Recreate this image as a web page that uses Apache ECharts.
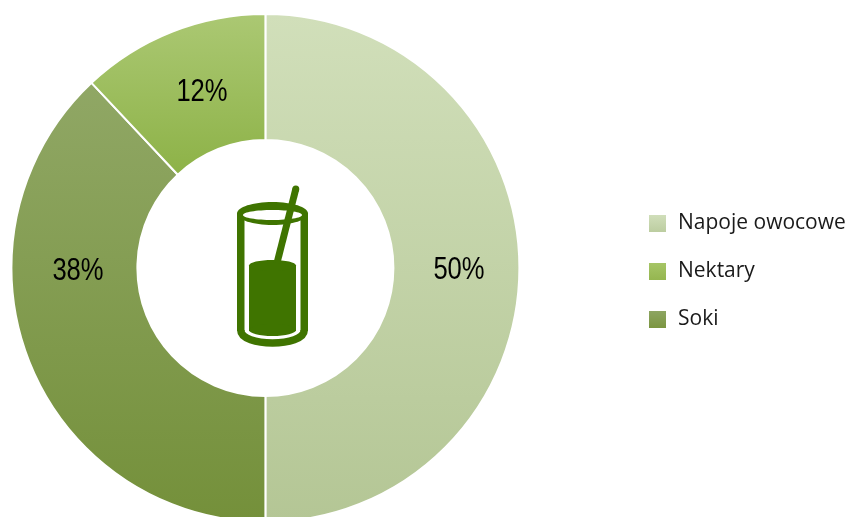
<!DOCTYPE html>
<html><head><meta charset="utf-8">
<style>html,body{margin:0;padding:0;background:#fff}#c{width:849px;height:517px}</style>
<script src="https://cdn.jsdelivr.net/npm/echarts@6/dist/echarts.min.js"></script>
</head><body><div id="c"></div>
<script>
const categories = ['Napoje owocowe', 'Nektary', 'Soki'];
const values = [50, 12, 38];
const pieOrder = [0, 2, 1];
const gradientTop = ['#d1dfba', '#abc873', '#90a765'];
const gradientBottom = ['#b4c695', '#8db247', '#74903a'];
const legendTop = ['#d0deba', '#a6c566', '#8da562'];
const legendBottom = ['#bccda0', '#95b650', '#7b9540'];
const iconColor = '#3f7400';
const labelCentres = [[459, 270], [202, 92.5], [78, 271]];

const cx = 265.4, cy = 268, outer = 254, inner = 128;
const gradientSpan = [[14, 522], [14, 175], [84, 522]];
const chart = echarts.init(document.getElementById('c'), null, {renderer: 'canvas'});
const grad = (i) => ({type: 'linear', x: 0, y: gradientSpan[i][0], x2: 0, y2: gradientSpan[i][1], global: true,
  colorStops: [{offset: 0, color: gradientTop[i]}, {offset: 1, color: gradientBottom[i]}]});
const legendGrad = (i) => ({type: 'linear', x: 0, y: 0, x2: 0, y2: 1,
  colorStops: [{offset: 0, color: legendTop[i]}, {offset: 1, color: legendBottom[i]}]});
const iconStroke = {fill: 'none', stroke: iconColor, lineWidth: 7.5};
const iconLine = {stroke: iconColor, lineWidth: 7, lineCap: 'butt'};

chart.setOption({
  animation: false,
  legend: {
    orient: 'vertical', left: 644, top: 206.5, itemWidth: 17, itemHeight: 17, itemGap: 24, icon: 'rect',
    selectedMode: false,
    textStyle: {fontFamily: 'Open Sans', fontSize: 21, color: '#1a1a1a', padding: [0, 0, 0, 7], height: 24, lineHeight: 24},
    data: categories.map((name, i) => ({name, itemStyle: {color: legendGrad(i), borderWidth: 0}}))
  },
  series: [{
    type: 'pie', center: [cx, cy], radius: [inner, outer], startAngle: 90, clockwise: true,
    avoidLabelOverlap: false, silent: true,
    itemStyle: {borderColor: '#fff', borderWidth: 2},
    label: {show: false},
    labelLine: {show: false},
    data: pieOrder.map((i) => ({name: categories[i], value: values[i], itemStyle: {color: grad(i)}}))
  }],
  graphic: [
    {type: 'line', silent: true, z: 10, shape: {x1: 240.75, y1: 213, x2: 240.75, y2: 331}, style: iconStroke},
    {type: 'line', silent: true, z: 10, shape: {x1: 304.25, y1: 213, x2: 304.25, y2: 331}, style: iconStroke},
    {type: 'bezierCurve', silent: true, z: 10, shape: {x1: 240.75, y1: 330, cpx1: 240.75, cpy1: 347.3, cpx2: 304.25, cpy2: 347.3, x2: 304.25, y2: 330}, style: iconStroke},
    {type: 'ellipse', silent: true, z: 10, shape: {cx: 272.5, cy: 213.5, rx: 35.5, ry: 11.5}, style: {fill: iconColor}},
    {type: 'ellipse', silent: true, z: 11, shape: {cx: 272.5, cy: 215, rx: 29.5, ry: 5}, style: {fill: '#fff'}},
    {type: 'rect', silent: true, z: 11, shape: {x: 249, y: 265, width: 47, height: 66}, style: {fill: iconColor}},
    {type: 'ellipse', silent: true, z: 11, shape: {cx: 272.5, cy: 265.5, rx: 23.5, ry: 5.5}, style: {fill: iconColor}},
    {type: 'ellipse', silent: true, z: 11, shape: {cx: 272.5, cy: 330, rx: 23.5, ry: 6}, style: {fill: iconColor}},
    {type: 'line', silent: true, z: 12, shape: {x1: 295.8, y1: 189, x2: 277, y2: 263}, style: iconLine},
    {type: 'circle', silent: true, z: 12, shape: {cx: 295.8, cy: 189, r: 3.5}, style: {fill: iconColor}}
  ].concat(values.map((v, i) => ({
    type: 'text', silent: true, z: 13, x: labelCentres[i][0], y: labelCentres[i][1], scaleX: 0.8,
    style: {text: v + '%', fontFamily: '"Liberation Sans"', fontSize: 32, fill: '#000', align: 'center', verticalAlign: 'middle'}
  })))
});
</script></body></html>
